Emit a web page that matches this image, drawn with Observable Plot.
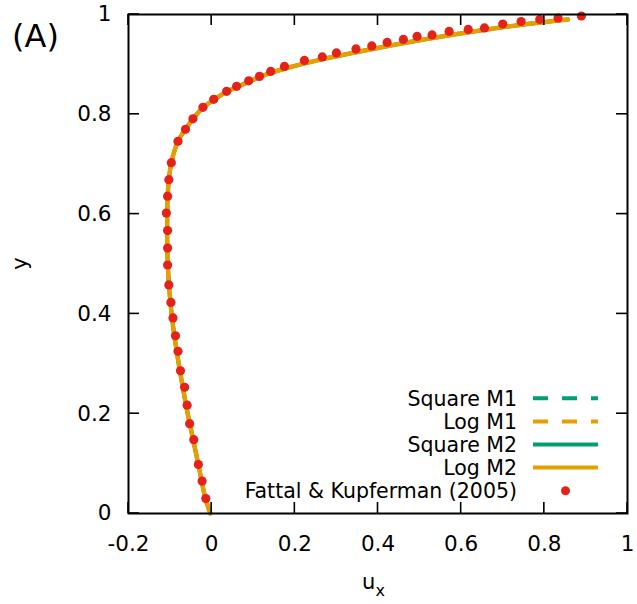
<!DOCTYPE html>
<html><head><meta charset="utf-8">
<script src="https://cdn.jsdelivr.net/npm/d3@7"></script>
<script src="https://cdn.jsdelivr.net/npm/@observablehq/plot@0.6"></script>
<style>body{margin:0;background:#fff;} svg{display:block;}</style>
</head><body><div id="chart"></div>
<script>
// ---- data ----
const xTicks = [-0.2, 0, 0.2, 0.4, 0.6, 0.8, 1];
const xTickLabels = ["-0.2", "0", "0.2", "0.4", "0.6", "0.8", "1"];
const yTicks = [0, 0.2, 0.4, 0.6, 0.8, 1];
const yTickLabels = ["0", "0.2", "0.4", "0.6", "0.8", "1"];
const panelLabel = "(A)";
const xLabel = "u";
const xLabelSub = "x";
const yLabel = "y";

const seriesNames = ["Square M1", "Log M1", "Square M2", "Log M2"];
const seriesColors = ["#009e73", "#e69f00", "#009e73", "#e69f00"];
const seriesDash = ["15,14", "15,14", null, null];

// model velocity profile (all four simulations overlap)
const modelU = [-0.003, -0.015, -0.03, -0.045, -0.06, -0.073, -0.085, -0.095, -0.102, -0.106, -0.107, -0.106, -0.103, -0.097, -0.081, -0.063, -0.045, -0.021, 0.005, 0.036, 0.089, 0.142, 0.200, 0.270, 0.350, 0.430, 0.510, 0.590, 0.670, 0.750, 0.857];
const modelY = [0.000, 0.030, 0.090, 0.150, 0.210, 0.270, 0.330, 0.390, 0.450, 0.510, 0.570, 0.630, 0.669, 0.703, 0.746, 0.770, 0.791, 0.813, 0.829, 0.845, 0.865, 0.883, 0.897, 0.911, 0.925, 0.938, 0.950, 0.961, 0.971, 0.980, 0.990];

const refName = "Fattal & Kupferman (2005)";
const refColor = "#e5221a";
const refU = [-0.014, -0.023, -0.032, -0.043, -0.053, -0.059, -0.065, -0.075, -0.081, -0.087, -0.093, -0.098, -0.103, -0.106, -0.106, -0.106, -0.109, -0.106, -0.103, -0.097, -0.081, -0.063, -0.045, -0.021, 0.005, 0.036, 0.060, 0.089, 0.115, 0.142, 0.175, 0.223, 0.266, 0.300, 0.347, 0.385, 0.422, 0.461, 0.494, 0.530, 0.571, 0.617, 0.656, 0.700, 0.744, 0.789, 0.833, 0.889];
const refY = [0.030, 0.065, 0.098, 0.148, 0.180, 0.217, 0.253, 0.286, 0.325, 0.356, 0.392, 0.423, 0.458, 0.498, 0.532, 0.567, 0.602, 0.636, 0.669, 0.703, 0.746, 0.770, 0.791, 0.814, 0.830, 0.846, 0.856, 0.867, 0.876, 0.886, 0.896, 0.908, 0.915, 0.923, 0.931, 0.937, 0.944, 0.950, 0.956, 0.959, 0.966, 0.970, 0.973, 0.981, 0.986, 0.990, 0.993, 0.997];

// ---- tables ----
const model = modelU.map((u, i) => ({u, y: modelY[i]}));
const ref = refU.map((u, i) => ({u, y: refY[i]}));

const FONT = "DejaVu Sans";
const W = 637, H = 604;
const mL = 128, mR = 10, mT = 14, mB = 91;

const seriesMarks = seriesNames.map((name, i) =>
  Plot.line(model, {x: "u", y: "y", stroke: seriesColors[i], strokeWidth: i < 2 ? 3.5 : (i === 3 ? 4.5 : 4),
    strokeDasharray: seriesDash[i] || undefined, curve: "catmull-rom"}));

// inward ticks on all four sides, built from the scales
function innerTicks(index, scales, values, dims) {
  const g = d3.create("svg:g").attr("stroke", "black").attr("stroke-width", 1.6);
  const L = dims.marginLeft, R = dims.width - dims.marginRight;
  const T = dims.marginTop, B = dims.height - dims.marginBottom;
  const len = 11;
  for (const t of xTicks) {
    const px = scales.x(t);
    g.append("line").attr("x1", px).attr("x2", px).attr("y1", B).attr("y2", B - len);
    g.append("line").attr("x1", px).attr("x2", px).attr("y1", T).attr("y2", T + len);
  }
  for (const t of yTicks) {
    const py = scales.y(t);
    g.append("line").attr("y1", py).attr("y2", py).attr("x1", L).attr("x2", L + len);
    g.append("line").attr("y1", py).attr("y2", py).attr("x1", R).attr("x2", R - len);
  }
  return g.node();
}

function annotations(index, scales, values, dims) {
  const g = d3.create("svg:g").attr("font-family", FONT).attr("fill", "black");
  const L = dims.marginLeft, R = dims.width - dims.marginRight;
  const T = dims.marginTop, B = dims.height - dims.marginBottom;
  g.append("text").attr("x", 12).attr("y", 47).attr("font-size", 32)
    .attr("text-anchor", "start").text(panelLabel);
  const xl = g.append("text").attr("x", (L + R) / 2 - 4).attr("y", 589).attr("font-size", 21)
    .attr("text-anchor", "middle");
  xl.append("tspan").text(xLabel);
  xl.append("tspan").attr("dy", 7).attr("font-size", 16).text(xLabelSub);
  g.append("text").attr("transform", `translate(27,${(T + B) / 2}) rotate(-90)`)
    .attr("font-size", 21).attr("text-anchor", "middle").text(yLabel);
  return g.node();
}

function legend(index, scales, values, dims) {
  const g = d3.create("svg:g").attr("font-family", FONT).attr("font-size", 20.5);
  const R = dims.width - dims.marginRight;
  const B = dims.height - dims.marginBottom;
  const rowH = 23.1;
  const entries = seriesNames.map((n, i) => ({name: n, color: seriesColors[i], dash: seriesDash[i], kind: "line"}))
    .concat([{name: refName, color: refColor, kind: "dot"}]);
  entries.forEach((e, i) => {
    const cy = B - 22.3 - (entries.length - 1 - i) * rowH;
    g.append("text").attr("x", R - 110).attr("y", cy).attr("dy", "0.36em")
      .attr("text-anchor", "end").attr("fill", "black").text(e.name);
    if (e.kind === "line") {
      g.append("line").attr("x1", R - 94).attr("x2", R - 29).attr("y1", cy).attr("y2", cy)
        .attr("stroke", e.color).attr("stroke-width", 4)
        .attr("stroke-dasharray", e.dash || null);
    } else {
      g.append("circle").attr("cx", R - 61.5).attr("cy", cy).attr("r", 4.5).attr("fill", e.color);
    }
  });
  return g.node();
}

const chart = Plot.plot({
  width: W, height: H,
  marginLeft: mL, marginRight: mR, marginTop: mT, marginBottom: mB,
  style: {fontFamily: FONT, background: "white", color: "black"},
  x: {domain: [-0.2, 1]},
  y: {domain: [0, 1]},
  marks: [
    ...seriesMarks,
    Plot.dot(ref, {x: "u", y: "y", r: 4.6, fill: refColor, stroke: null}),
    Plot.axisX(xTicks, {anchor: "bottom", tickSize: 0, tickPadding: 22, fontSize: 21.5,
      tickFormat: (d) => xTickLabels[xTicks.indexOf(d)], label: null}),
    Plot.axisY(yTicks, {anchor: "left", tickSize: 0, tickPadding: 17, fontSize: 21.5,
      tickFormat: (d) => yTickLabels[yTicks.indexOf(d)], label: null}),
    innerTicks,
    Plot.frame({stroke: "black", strokeWidth: 2}),
    legend,
    annotations
  ]
});
document.getElementById("chart").appendChild(chart);
</script>
</body></html>
